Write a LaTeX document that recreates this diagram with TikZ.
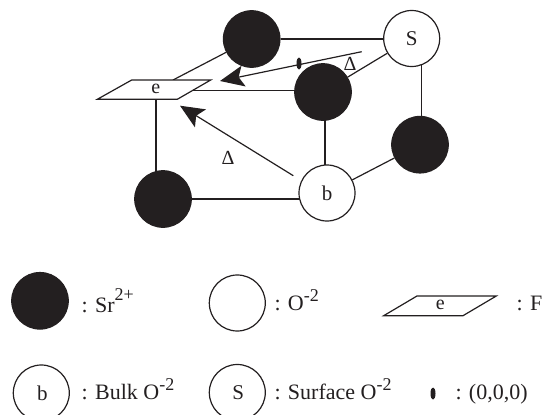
\documentclass[tikz,border=0pt]{standalone}
\usepackage{fontspec}
\setmainfont{Liberation Serif}
\usetikzlibrary{arrows.meta,shapes.geometric,backgrounds}
\definecolor{ink}{HTML}{231F20}
\newcommand{\supr}[2][9pt]{\raisebox{#1}{\fontsize{18}{18}\selectfont #2}}
\tikzset{
  x=1pt,y=-1pt,
  blackion/.style={circle,draw=ink,fill=ink,minimum size=56.5pt,inner sep=0pt,line width=1.2pt},
  whiteion/.style={circle,draw=ink,fill=white,minimum size=56pt,inner sep=0pt,line width=1.2pt,font=\fontsize{21}{21}\selectfont,text=ink},
  bond/.style={draw=ink,line width=1.2pt},
  jump/.style={draw=ink,line width=1.2pt,-{Stealth[length=24pt,width=21pt,inset=5pt]}},
  lbl/.style={inner sep=0pt,anchor=base west,font=\fontsize{22}{23}\selectfont,text=ink},
  txt/.style={inner sep=0pt,font=\fontsize{20}{20}\selectfont,text=ink},
  origin/.style={ellipse,fill=ink,minimum width=5pt,minimum height=12pt,inner sep=0pt},
  ftrap/.style={draw=ink,line width=1.2pt,fill=white}
}
\begin{document}
\begin{tikzpicture}
\useasboundingbox (0,0) rectangle (542,415);
% ions
\node[blackion] (tb) at (251.7,39) {};
\node[whiteion] (S) at (411.7,38.5) {S};
\node[blackion] (mb) at (323,92) {};
\node[blackion] (rb) at (420,144.7) {};
\node[whiteion] (b) at (327,193) {b};
\node[blackion] (lb) at (163,199) {};
% F centre
\coordinate (e1) at (97.3,99.3);
\coordinate (e2) at (131.7,80);
\coordinate (e3) at (210.7,80);
\coordinate (e4) at (177.3,99.3);
\coordinate (etop) at (173,80);
\coordinate (ebot) at (156,99.3);
\coordinate (eright) at (190,90.7);
\coordinate (mbb) at (325,92);
\coordinate (bbt) at (325,193);
\coordinate (srv) at (421.7,38.5);
\coordinate (rbv) at (421.7,144.7);
% bonds
\begin{scope}[on background layer]
\draw[bond] (tb) -- (tb -| S);
\draw[bond] (tb) -- (etop);
\draw[bond] (S) -- (mb);
\draw[bond] (srv) -- (rbv);
\draw[bond] (eright) -- (eright -| mb);
\draw[bond] (mbb) -- (bbt);
\draw[bond] (b) -- (rb);
\draw[bond] (lb) -- (lb -| b);
\draw[bond] (ebot) -- (ebot |- lb);
\end{scope}
\draw[ftrap] (e1) -- (e2) -- (e3) -- (e4) -- cycle;
\node[txt] (elab) at (155.7,89) {e};
% arrows
\coordinate (a1s) at (361.7,51.7);
\coordinate (a1e) at (220,81);
\coordinate (a2s) at (293.3,175.7);
\coordinate (a2e) at (180,105.7);
\draw[jump] (a1s) -- (a1e);
\draw[jump] (a2s) -- (a2e);
\node[origin] (o) at (299,63.5) {};
\node[txt] (d1) at (350,64) {Δ};
\node[txt] (d2) at (228,158) {Δ};
% legend
\node[blackion] (kb) at (40,300.8) {};
\node[lbl] (kbt) at (81.5,312.5) {: Sr\supr[12pt]{2+}};
\node[whiteion] (ko) at (237.3,303) {};
\node[lbl] (kot) at (274.3,310.7) {: O\supr{-2}};
\coordinate (k1) at (383.7,315.7);
\coordinate (k2) at (417,296);
\coordinate (k3) at (496.3,296);
\coordinate (k4) at (463,315.7);
\draw[ftrap] (k1) -- (k2) -- (k3) -- (k4) -- cycle;
\node[txt] (ke) at (440.3,304.5) {e};
\node[lbl] (kft) at (516.5,310.7) {: F};
\node[whiteion] (kbo) at (41.3,393) {\hspace*{2pt}b};
\node[lbl] (kbot) at (81.5,399) {: Bulk O\supr{-2}};
\node[whiteion] (kso) at (237.3,392.5) {\hspace*{2pt}S};
\node[lbl] (ksot) at (274.3,399) {: Surface O\supr{-2}};
\node[origin] (kor) at (433,393.5) {};
\node[lbl] (kort) at (455.3,399) {: (0,0,0)};
\end{tikzpicture}
\end{document}
